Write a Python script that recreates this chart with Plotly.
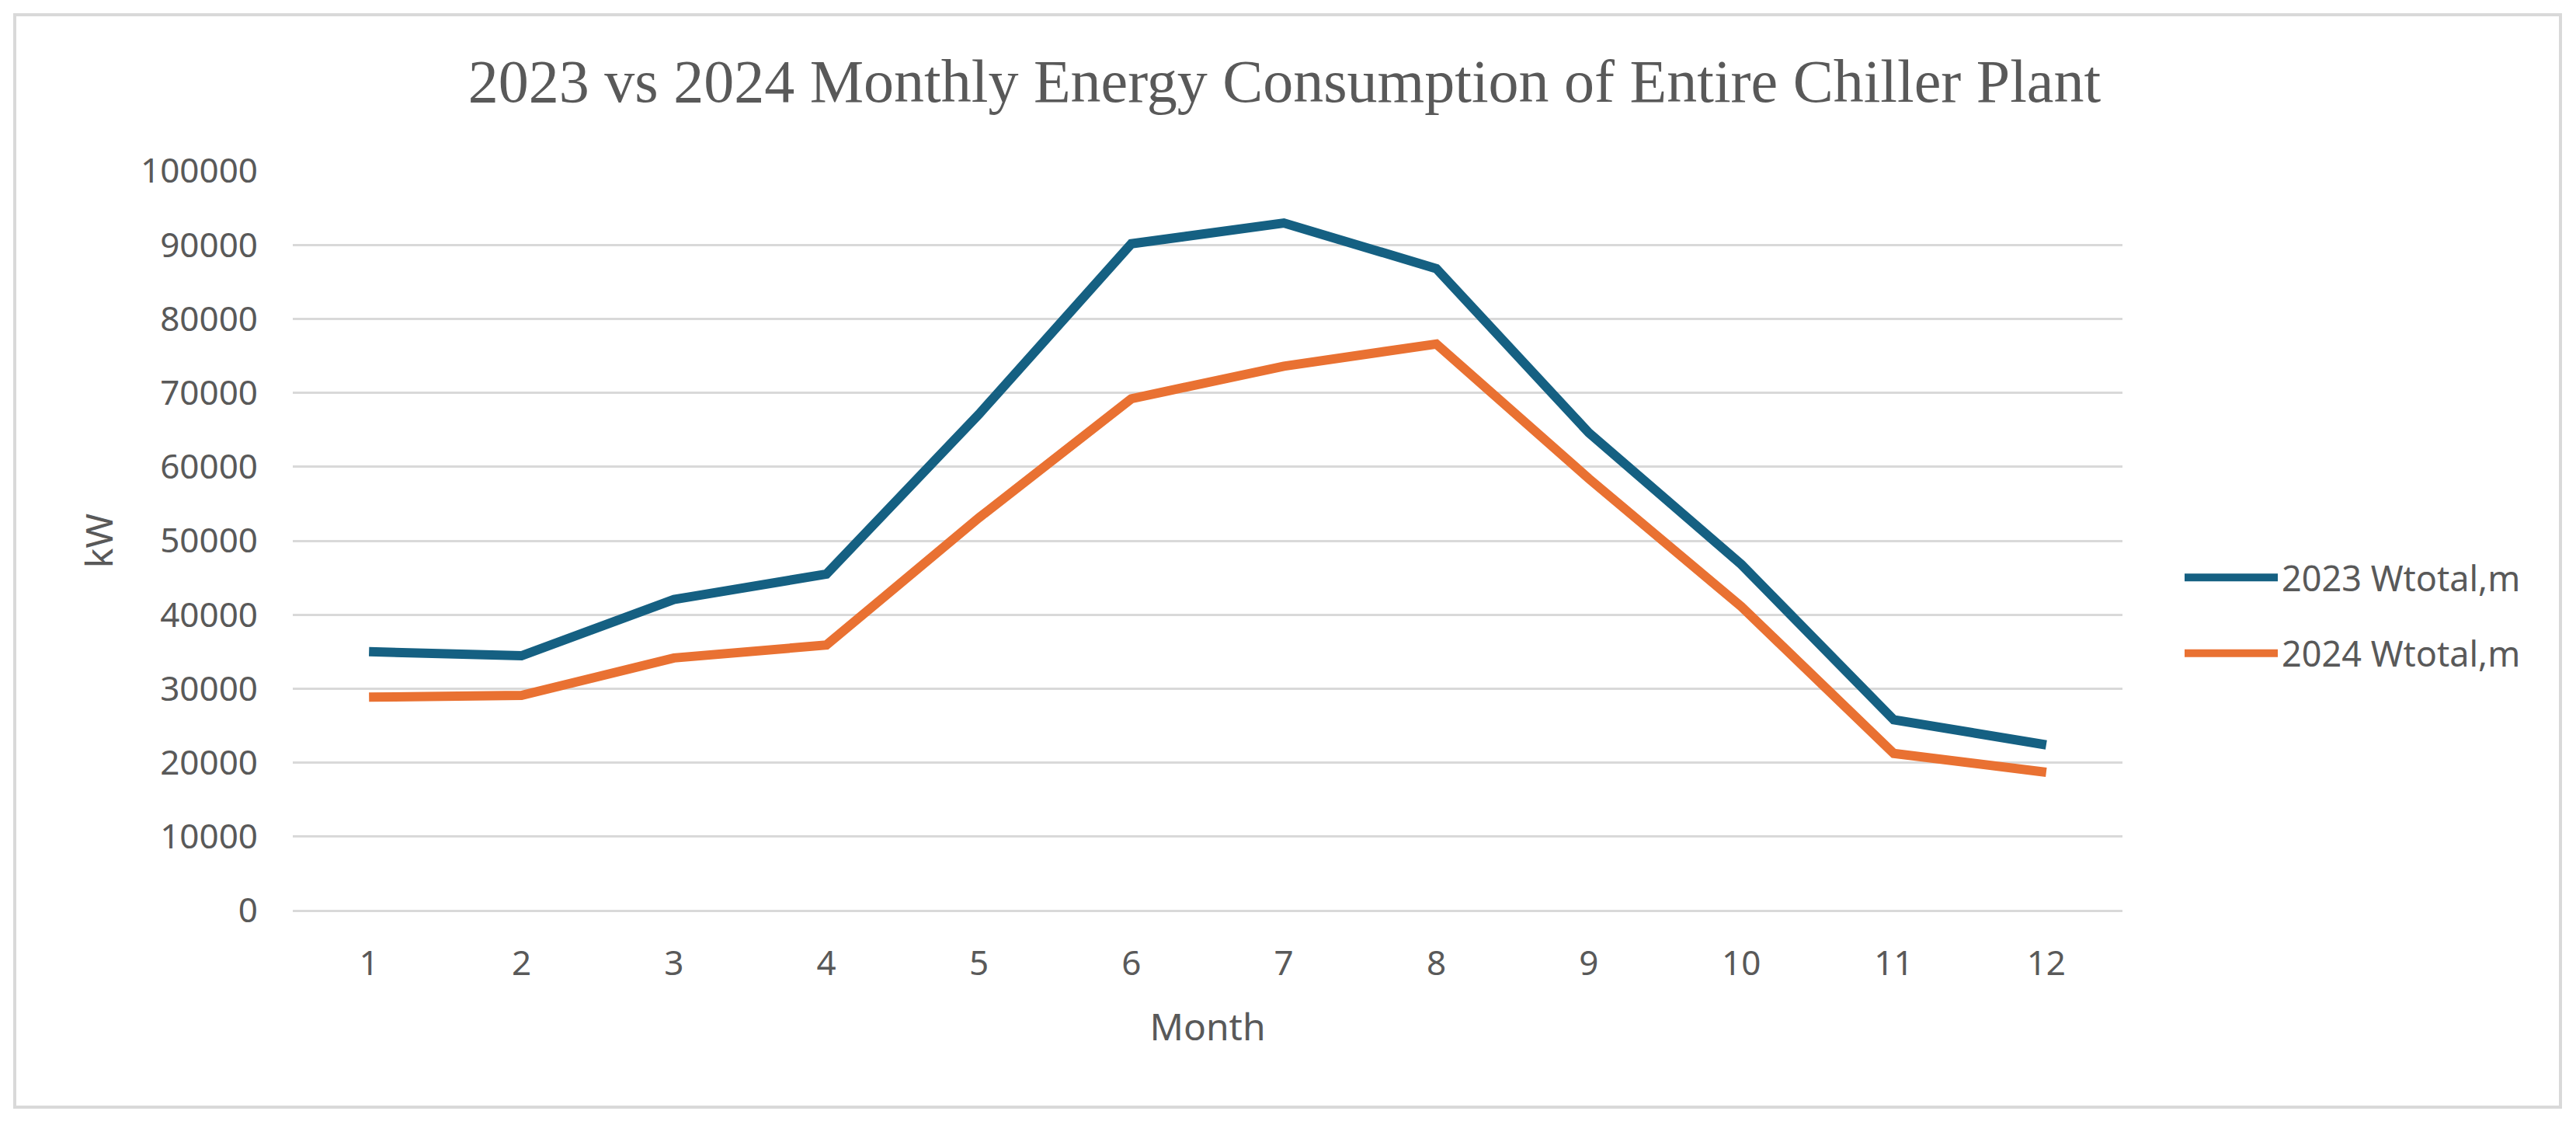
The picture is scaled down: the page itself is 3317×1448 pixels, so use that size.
import plotly.graph_objects as go

months = [1, 2, 3, 4, 5, 6, 7, 8, 9, 10, 11, 12]
w2023 = [35000, 34450, 42050, 45500, 67100, 90150, 92950, 86800, 64600, 46800, 25800, 22400]
w2024 = [28850, 29100, 34150, 35900, 53100, 69200, 73600, 76600, 58400, 41100, 21250, 18700]
series_names = ["2023 Wtotal,m", "2024 Wtotal,m"]
y_ticks = [0, 10000, 20000, 30000, 40000, 50000, 60000, 70000, 80000, 90000, 100000]
y_labels = [str(v) for v in y_ticks]

W, H = 3317, 1448
OFF = 8  # page offset of the figure inside the browser window
ML, MR, MT, MB = 377 - OFF, 584 + OFF, 220 - OFF, 276 + OFF
TXT = "#595959"
GRID = "#d9d9d9"
SANS = "Noto Sans, Open Sans, sans-serif"

fig = go.Figure()
fig.add_trace(go.Scatter(x=months, y=w2023, mode="lines", name=series_names[0],
                         legendgroup="a", line=dict(color="#156082", width=12)))
fig.add_trace(go.Scatter(x=months, y=w2024, mode="lines", name=series_names[1],
                         legendgroup="b", line=dict(color="#E97132", width=12)))

pw = W - ML - MR
ph = H - MT - MB
def px2paper_x(px):
    return (px - OFF - ML) / pw
def px2paper_y(py):
    return (H - MB - (py - OFF)) / ph

fig.update_layout(
    width=W, height=H,
    margin=dict(l=ML, r=MR, t=MT, b=MB, autoexpand=False),
    paper_bgcolor="white", plot_bgcolor="white",
    title=dict(text="2023 vs 2024 Monthly Energy Consumption of Entire Chiller Plant",
               font=dict(family="Liberation Serif, Times New Roman, serif", size=78, color=TXT),
               x=(1654 - OFF) / W, xanchor="center", y=1 - (104 - OFF) / H, yanchor="middle"),
    xaxis=dict(range=[0.5, 12.5], tickmode="array", tickvals=months,
               ticktext=[str(m) for m in months],
               showgrid=False, zeroline=False, showline=False, ticks="",
               tickfont=dict(family=SANS, size=44, color=TXT),
               ticklabelstandoff=38,
               title=dict(text="Month", font=dict(family=SANS, size=48, color=TXT), standoff=38)),
    yaxis=dict(range=[0, 100000], tickmode="array", tickvals=y_ticks, ticktext=y_labels,
               showgrid=True, gridcolor=GRID, gridwidth=3,
               zeroline=True, zerolinecolor=GRID, zerolinewidth=3,
               showline=False, ticks="",
               tickfont=dict(family=SANS, size=44, color=TXT),
               ticklabelstandoff=44,
               title=dict(text="kW", font=dict(family=SANS, size=48, color=TXT), standoff=20)),
    legend=dict(x=px2paper_x(2808), y=px2paper_y(792), xanchor="left", yanchor="middle",
                font=dict(family=SANS, size=45, color=TXT),
                itemwidth=120, tracegroupgap=36, bgcolor="rgba(0,0,0,0)"),
    showlegend=True,
    shapes=[dict(type="rect", xref="paper", yref="paper",
                 x0=px2paper_x(19), x1=px2paper_x(3297),
                 y0=px2paper_y(1425), y1=px2paper_y(19),
                 line=dict(color=GRID, width=4), fillcolor="rgba(0,0,0,0)", layer="below")],
)

fig.write_html("out.html")
